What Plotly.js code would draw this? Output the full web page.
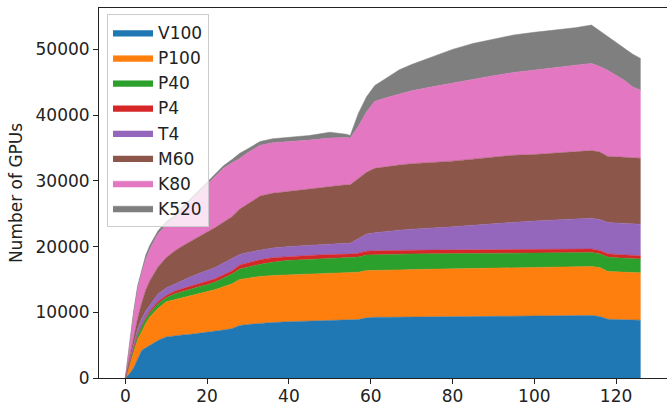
<!DOCTYPE html>
<html>
<head>
<meta charset="utf-8">
<script src="https://cdn.plot.ly/plotly-3.0.1.min.js"></script>
<style>
  html, body { margin: 0; padding: 0; background: #fff; }
  #chart { width: 667px; height: 406px; }
</style>
</head>
<body>
<div id="chart"></div>
<script>
// Time index (x axis)
const xValues = [0,1,2,3,4,5,6,8,10,12,14,16,18,20,22,24,26,28,30,33,36,40,45,50,54,55,57,59,61,64,67,70,75,80,85,90,95,100,105,110,114,116,118,120,122,124,126];

// GPU counts per type (stacked in this order)
const seriesNames = ["V100","P100","P40","P4","T4","M60","K80","K520"];
const seriesColors = ["#1f77b4","#ff7f0e","#2ca02c","#d62728","#9467bd","#8c564b","#e377c2","#7f7f7f"];

const V100 = [0,600,1500,2800,4200,4600,5000,5700,6250,6450,6550,6650,6800,6900,7100,7300,7500,8000,8150,8350,8450,8560,8650,8750,8800,8800,8900,9150,9250,9250,9280,9300,9300,9330,9350,9380,9420,9450,9480,9500,9520,9350,8950,8900,8900,8850,8800];
const P100 = [0,1200,2300,3000,2900,3700,4300,4900,5350,5450,5750,5950,6100,6300,6350,6600,6800,7000,7050,7100,7150,7140,7200,7210,7200,7200,7200,7200,7150,7170,7170,7200,7250,7270,7300,7300,7280,7270,7320,7400,7450,7450,7250,7250,7200,7200,7200];
const P40 = [0,200,500,700,800,700,600,700,600,900,900,950,1000,1000,1150,1300,1500,1600,1700,1850,2000,2200,2200,2240,2250,2250,2300,2350,2350,2380,2400,2380,2350,2320,2300,2290,2300,2280,2250,2180,2130,2100,2200,2150,2150,2100,2100];
const P4 = [0,50,100,200,200,250,300,350,350,400,400,400,400,450,500,500,500,600,600,700,700,600,600,600,600,600,600,600,600,600,570,570,560,560,550,550,550,560,530,520,520,500,500,500,500,500,500];
const T4 = [0,250,600,800,900,950,900,1150,1150,1100,1300,1450,1600,1650,1700,1800,1800,1600,1600,1500,1500,1500,1550,1650,1650,1650,2200,2600,2750,2950,3080,3200,3340,3520,3750,3980,4150,4340,4470,4600,4700,4700,4750,4800,4800,4850,4800];
const M60 = [0,700,1000,1500,2400,3200,3700,4100,4600,5000,5200,5400,5600,5800,6100,6200,6400,6900,7400,8200,8300,8400,8600,8750,8900,8900,9100,9400,9800,9850,9900,9950,9950,10000,10050,10100,10200,10100,10150,10200,10280,10300,10050,10050,10050,10000,10040];
const K80 = [0,2000,3500,4500,4600,4600,4800,5000,5000,5000,5600,6200,6700,7300,7800,8200,8200,7700,7800,7700,7700,7550,7400,7300,7200,7100,8000,9200,10200,10500,10800,11100,11550,11900,12200,12400,12600,12900,13100,13200,13270,13000,13100,12450,11700,10800,10360];
const K520 = [0,200,500,500,500,700,600,500,500,400,400,400,400,400,400,400,500,800,600,600,600,680,700,900,500,400,2000,2300,2400,3000,3700,4000,4600,5100,5400,5600,5700,5700,5600,5700,5830,5400,5200,4900,4800,5000,4800];

const yTickVals = [0,10000,20000,30000,40000,50000];
const xTickVals = [0,20,40,60,80,100,120];

const seriesData = [V100,P100,P40,P4,T4,M60,K80,K520];

const traces = seriesData.map((vals, i) => ({
  type: "scatter",
  mode: "lines",
  x: xValues,
  y: vals,
  name: seriesNames[i],
  stackgroup: "gpus",
  line: { color: seriesColors[i], width: 0.5 },
  fillcolor: seriesColors[i],
  hoverinfo: "skip"
}));

const fontFam = "DejaVu Sans, sans-serif";
const layout = {
  width: 667,
  height: 406,
  margin: { l: 99, r: 0, t: 8, b: 28 },
  paper_bgcolor: "#ffffff",
  plot_bgcolor: "#ffffff",
  font: { family: fontFam, size: 17, color: "#222222" },
  showlegend: true,
  legend: {
    x: 0.0141, y: 0.9838, xanchor: "left", yanchor: "top",
    bgcolor: "rgba(255,255,255,0.8)",
    bordercolor: "#cccccc", borderwidth: 1,
    font: { family: fontFam, size: 17, color: "#222222" },
    traceorder: "normal",
    itemwidth: 40,
    entrywidth: 60, entrywidthmode: "pixels"
  },
  xaxis: {
    range: [-6.43, 132.45],
    tickmode: "array", tickvals: xTickVals,
    ticks: "outside", ticklen: 5, tickwidth: 1, tickcolor: "#222",
    ticklabelstandoff: -2,
    showgrid: false, zeroline: false,
    showline: true, linecolor: "#222", linewidth: 1, mirror: true,
    tickfont: { family: fontFam, size: 17, color: "#222" }
  },
  yaxis: {
    range: [0, 56300],
    tickmode: "array", tickvals: yTickVals, tickformat: "d",
    ticks: "outside", ticklen: 5, tickwidth: 1, tickcolor: "#222",
    showgrid: false, zeroline: false,
    showline: true, linecolor: "#222", linewidth: 1,
    tickfont: { family: fontFam, size: 17, color: "#222" },
    title: { text: "Number of GPUs", font: { family: fontFam, size: 17, color: "#222" }, standoff: 8 }
  }
};

Plotly.newPlot("chart", traces, layout, { displayModeBar: false, staticPlot: true });
</script>
</body>
</html>
